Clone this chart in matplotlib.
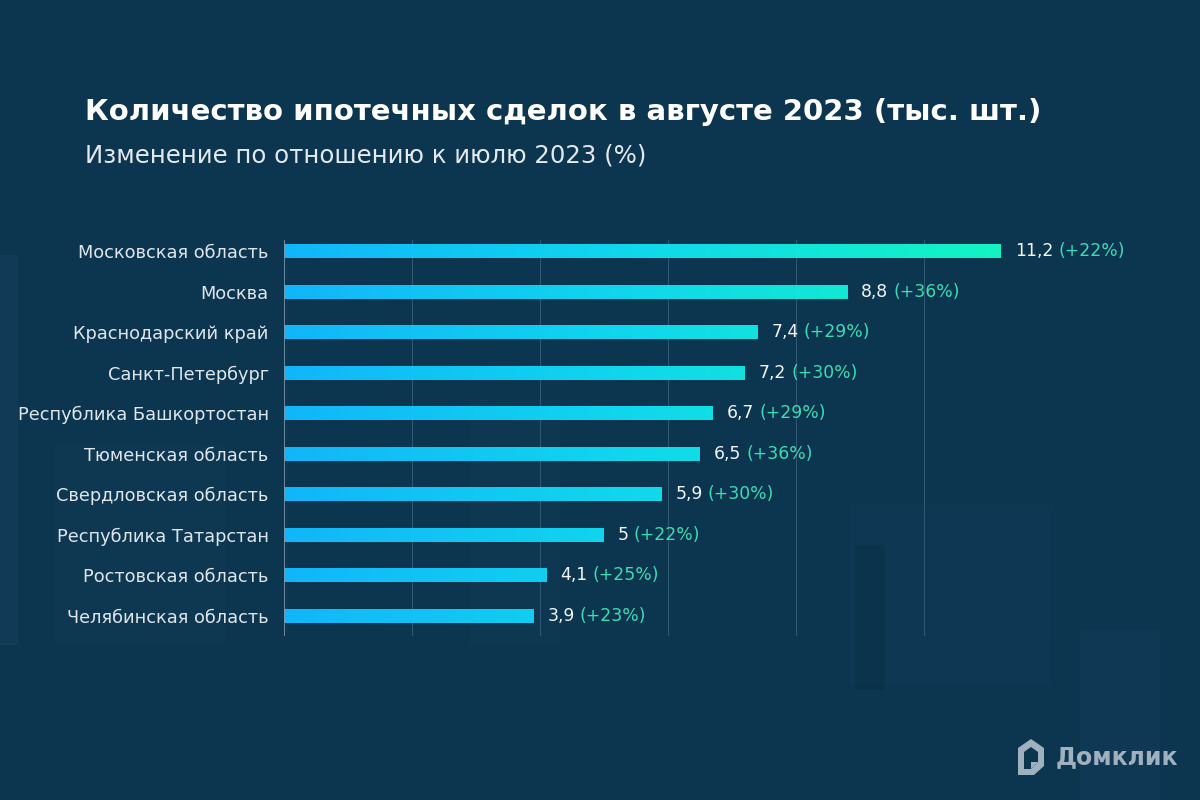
import numpy as np
import matplotlib
matplotlib.use("Agg")
import matplotlib.pyplot as plt
from matplotlib.patches import Rectangle, Polygon
from matplotlib.colors import LinearSegmentedColormap

plt.rcParams['font.family'] = ['DejaVu Sans']

# data
regions = ["Московская область", "Москва", "Краснодарский край", "Санкт-Петербург",
           "Республика Башкортостан", "Тюменская область", "Свердловская область",
           "Республика Татарстан", "Ростовская область", "Челябинская область"]
deals = [11.2, 8.8, 7.4, 7.2, 6.7, 6.5, 5.9, 5.0, 4.1, 3.9]
value_labels = ["11,2", "8,8", "7,4", "7,2", "6,7", "6,5", "5,9", "5", "4,1", "3,9"]
change_labels = ["(+22%)", "(+36%)", "(+29%)", "(+30%)", "(+29%)", "(+36%)",
                 "(+30%)", "(+22%)", "(+25%)", "(+23%)"]

BG = "#0c3550"
fig = plt.figure(figsize=(12, 8), dpi=100)
fig.patch.set_facecolor(BG)

# background layer with faint "buildings"
bg = fig.add_axes([0, 0, 1, 1], zorder=-5)
bg.set_xlim(0, 1200)
bg.set_ylim(800, 0)
bg.axis("off")
for (x, y, w, h, c, a) in [
    (0, 255, 18, 390, "#3a6a8a", 0.10),
    (55, 445, 170, 200, "#3a6a8a", 0.05),
    (470, 400, 90, 245, "#3a6a8a", 0.05),
    (855, 545, 30, 145, "#02202f", 0.18),
    (850, 505, 200, 180, "#3a6a8a", 0.04),
    (1080, 630, 80, 170, "#3a6a8a", 0.07),
]:
    bg.add_patch(Rectangle((x, y), w, h, facecolor=c, alpha=a, edgecolor="none"))

# logo
bg.add_patch(Polygon([(1018, 748), (1031, 739), (1044, 748), (1044, 766), (1034, 775),
                      (1018, 775)], closed=True, facecolor="#9fb1bf", edgecolor="none"))
bg.add_patch(Polygon([(1024, 752), (1031, 747), (1038, 752), (1038, 762), (1031, 769),
                      (1024, 769)], closed=True, facecolor=BG, edgecolor="none"))
bg.add_patch(Polygon([(1031, 762), (1038, 762), (1031, 769)], closed=True,
                     facecolor="#9fb1bf", edgecolor="none"))

ax = fig.add_axes([284/1200, 1-636/800, 768/1200, 396/800])
ax.set_facecolor("none")

ypos = np.arange(len(regions))
bar_h = 0.34
bars = ax.barh(ypos, deals, height=bar_h, color="none", edgecolor="none", zorder=3)

cmap = LinearSegmentedColormap.from_list("g", ["#12b6fa", "#10d8ec", "#14f4c2"])
grad = np.linspace(0, 1, 256).reshape(1, -1)
for b in bars:
    im = ax.imshow(grad, cmap=cmap, aspect="auto", extent=[0, 11.2, 9.5, -0.28],
                   zorder=3, interpolation="bicubic")
    im.set_clip_path(b)
ax.set_xlim(0, 12)
ax.set_ylim(9.5, -0.28)

for x in [2, 4, 6, 8, 10, 12]:
    ax.axvline(x, color="#4a6f88", lw=0.8, alpha=0.6, zorder=1)
ax.axvline(0, color="#7f98aa", lw=1.2, zorder=4)

for s in ax.spines.values():
    s.set_visible(False)
ax.set_xticks([])
ax.set_yticks(ypos)
ax.set_yticklabels(regions, fontsize=12.8, color="#dfe6eb")
ax.tick_params(axis="y", length=0, pad=11)

fig.canvas.draw()
r = fig.canvas.get_renderer()
for i, v in enumerate(deals):
    t1 = ax.annotate(value_labels[i], (v, i), xytext=(10, 0), textcoords="offset points",
                     va="center", ha="left", fontsize=12.4, color="#f2f5f7")
    ext = t1.get_window_extent(renderer=r)
    x2 = ax.transData.inverted().transform((ext.x1 + 5, 0))[0]
    ax.text(x2, i, change_labels[i], va="center", ha="left", fontsize=12.4,
            color="#3ddcb4", clip_on=False)

fig.text(85/1200, 1-112/800, "Количество ипотечных сделок в августе 2023 (тыс. шт.)",
         fontsize=21, fontweight="bold", color="white", va="center", ha="left")
fig.text(85/1200, 1-155/800, "Изменение по отношению к июлю 2023 (%)",
         fontsize=17.6, color="#e3e9ee", va="center", ha="left")
fig.text(1056/1200, 1-757/800, "Домклик", fontsize=17, fontweight="bold",
         color="#9fb1bf", va="center", ha="left")

fig.savefig("out.png", dpi=100, facecolor=BG)
